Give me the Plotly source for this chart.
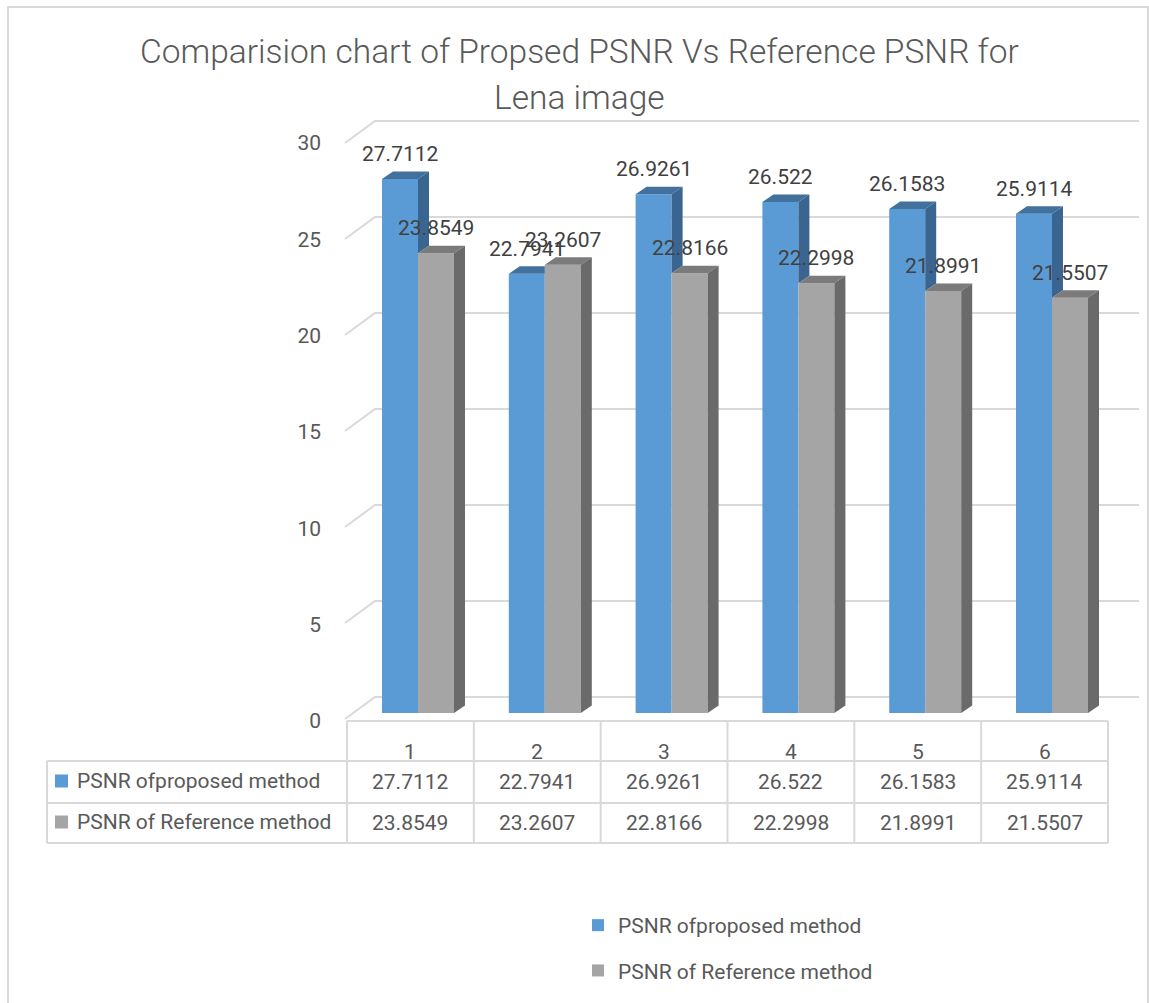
import plotly.graph_objects as go

# ---------------- data ----------------
categories = [1, 2, 3, 4, 5, 6]
cat_labels = ["1", "2", "3", "4", "5", "6"]
proposed = [27.7112, 22.7941, 26.9261, 26.522, 26.1583, 25.9114]
reference = [23.8549, 23.2607, 22.8166, 22.2998, 21.8991, 21.5507]
proposed_txt = ["27.7112", "22.7941", "26.9261", "26.522", "26.1583", "25.9114"]
reference_txt = ["23.8549", "23.2607", "22.8166", "22.2998", "21.8991", "21.5507"]
series_names = ["PSNR ofproposed method", "PSNR of Reference method"]
y_ticks = [0, 5, 10, 15, 20, 25, 30]
title_lines = ["Comparision chart of Propsed PSNR Vs Reference PSNR for", "Lena image"]

# ---------------- geometry ----------------
W, H = 1149, 1003
FONT = "Roboto"
TXT = "#595959"
LBL = "#404040"
GRID = "#d9d9d9"
BLUE, BLUE_TOP, BLUE_SIDE = "#5b9bd5", "#41719c", "#3a6590"
GRAY, GRAY_TOP, GRAY_SIDE = "#a5a5a5", "#7b7b7b", "#6a6a6a"

CAT_PX = 126.8          # pixels per category
CAT1_PX = 418           # pixel center of first bar group
X_PX0, X_PX1 = 330, 1145
Y0_PX, Y_UNIT = 713, 19.27
Y_PX_TOP, Y_PX_BOT = 100, 745

def px_to_x(px):
    return 1 + (px - CAT1_PX) / CAT_PX

def py_to_y(py):
    return (Y0_PX - py) / Y_UNIT

def fx(px):
    return px / W

def fy(py):
    return 1 - py / H

bar_w = 36 / CAT_PX
dx = 11 / CAT_PX
dy = 7.5 / Y_UNIT

fig = go.Figure()
fig.add_trace(go.Bar(x=categories, y=proposed, name=series_names[0], marker_color=BLUE,
                     marker_line_width=0, offset=-bar_w, width=bar_w, legendgroup="a"))
fig.add_trace(go.Bar(x=categories, y=reference, name=series_names[1], marker_color=GRAY,
                     marker_line_width=0, offset=0, width=bar_w, legendgroup="b"))

shapes = []
annotations = []

# back-wall gridlines with perspective
for v in y_ticks:
    yf = py_to_y(719 - 19.2 * v)
    yb = py_to_y(697 - 19.2 * v)
    shapes.append(dict(type="path", xref="x", yref="y", layer="below",
                       path=f"M{px_to_x(345)},{yf} L{px_to_x(375)},{yb} L{px_to_x(1139)},{yb}",
                       line=dict(color=GRID, width=2)))

def poly(pts, color):
    p = "M" + " L".join(f"{a},{b}" for a, b in pts) + " Z"
    return dict(type="path", xref="x", yref="y", layer="above", path=p,
                fillcolor=color, line=dict(width=0))

for c, vb, vg, tb, tg in zip(categories, proposed, reference, proposed_txt, reference_txt):
    xl, xr = c - bar_w, c
    # blue top face (and visible part of side face)
    if vb >= vg:
        shapes.append(poly([(xl, vb), (xl + dx, vb + dy), (xr + dx, vb + dy), (xr, vb)], BLUE_TOP))
        shapes.append(poly([(xr, vg), (xr + dx, vg + dy), (xr + dx, vb + dy), (xr, vb)], BLUE_SIDE))
    else:
        shapes.append(poly([(xl, vb), (xl + dx, vb + dy), (xr, vb + dy), (xr, vb)], BLUE_TOP))
    # gray faces
    gl, gr = c, c + bar_w
    shapes.append(poly([(gl, vg), (gl + dx, vg + dy), (gr + dx, vg + dy), (gr, vg)], GRAY_TOP))
    shapes.append(poly([(gr, 0), (gr + dx, dy), (gr + dx, vg + dy), (gr, vg)], GRAY_SIDE))
    # data labels
    annotations.append(dict(x=c - bar_w / 2, y=vb, xref="x", yref="y", text=tb, showarrow=False,
                            yanchor="middle", yshift=25, font=dict(family=FONT, size=21, color=LBL)))
    annotations.append(dict(x=c + bar_w / 2, y=vg, xref="x", yref="y", text=tg, showarrow=False,
                            yanchor="middle", yshift=25, font=dict(family=FONT, size=21, color=LBL)))

# ---------------- data table ----------------
T_L, T_C0, T_R = 47, 347, 1108
ROW_Y = [721, 761, 803, 843]
col_px = [T_C0 + i * (T_R - T_C0) / len(categories) for i in range(len(categories) + 1)]

def pline(x0, y0, x1, y1):
    return dict(type="line", xref="paper", yref="paper", x0=fx(x0), y0=fy(y0), x1=fx(x1), y1=fy(y1),
                line=dict(color=GRID, width=2), layer="below")

shapes.append(pline(T_C0, ROW_Y[0], T_R, ROW_Y[0]))
for yy in ROW_Y[1:]:
    shapes.append(pline(T_L, yy, T_R, yy))
shapes.append(pline(T_L, ROW_Y[1], T_L, ROW_Y[3]))
for xx in col_px:
    shapes.append(pline(xx, ROW_Y[0], xx, ROW_Y[3]))

for i, lab in enumerate(cat_labels):
    cx = (col_px[i] + col_px[i + 1]) / 2
    annotations.append(dict(x=fx(cx), y=fy(752), xref="paper", yref="paper", text=lab, showarrow=False,
                            xanchor="center", yanchor="middle", font=dict(family=FONT, size=21, color=TXT)))
    annotations.append(dict(x=fx(cx), y=fy(782), xref="paper", yref="paper", text=proposed_txt[i],
                            showarrow=False, xanchor="center", yanchor="middle",
                            font=dict(family=FONT, size=21, color=TXT)))
    annotations.append(dict(x=fx(cx), y=fy(823), xref="paper", yref="paper", text=reference_txt[i],
                            showarrow=False, xanchor="center", yanchor="middle",
                            font=dict(family=FONT, size=21, color=TXT)))

for name, col, yc in zip(series_names, [BLUE, GRAY], [781, 822]):
    shapes.append(dict(type="rect", xref="paper", yref="paper", x0=fx(55), x1=fx(68),
                       y0=fy(yc - 6.5), y1=fy(yc + 6.5), fillcolor=col, line=dict(width=0)))
    annotations.append(dict(x=fx(75), y=fy(yc), xref="paper", yref="paper", text=name, showarrow=False,
                            xanchor="left", yanchor="middle", font=dict(family=FONT, size=21, color=TXT)))

# chart border
shapes.append(dict(type="rect", xref="paper", yref="paper", x0=fx(8), x1=fx(1148), y0=fy(1010), y1=fy(7),
                   line=dict(color=GRID, width=2), layer="below"))

# title
annotations.append(dict(x=fx(579), y=fy(52), xref="paper", yref="paper", text=title_lines[0],
                        showarrow=False, xanchor="center", yanchor="middle",
                        font=dict(family=FONT, size=33.5, color=TXT, weight=300)))
annotations.append(dict(x=fx(579), y=fy(97), xref="paper", yref="paper", text=title_lines[1],
                        showarrow=False, xanchor="center", yanchor="middle",
                        font=dict(family=FONT, size=33.5, color=TXT, weight=300)))

fig.update_layout(
    width=W, height=H,
    margin=dict(l=0, r=0, t=0, b=0),
    paper_bgcolor="white", plot_bgcolor="rgba(0,0,0,0)",
    shapes=shapes, annotations=annotations,
    barmode="overlay",
    xaxis=dict(domain=[fx(X_PX0), fx(X_PX1)], range=[px_to_x(X_PX0), px_to_x(X_PX1)],
               showgrid=False, zeroline=False, showticklabels=False, showline=False, fixedrange=True),
    yaxis=dict(domain=[fy(Y_PX_BOT), fy(Y_PX_TOP)], range=[py_to_y(Y_PX_BOT), py_to_y(Y_PX_TOP)],
               tickvals=y_ticks, ticktext=[str(t) for t in y_ticks],
               showgrid=False, zeroline=False, showline=False, ticks="",
               ticklabelstandoff=8, ticklabelshift=8,
               tickfont=dict(family=FONT, size=21, color=TXT)),
    showlegend=True,
    legend=dict(x=fx(578), y=fy(905), xanchor="left", yanchor="top", orientation="v",
                traceorder="grouped", tracegroupgap=15,
                font=dict(family=FONT, size=21, color=TXT), bgcolor="rgba(0,0,0,0)"),
)

fig.write_html("out.html")
